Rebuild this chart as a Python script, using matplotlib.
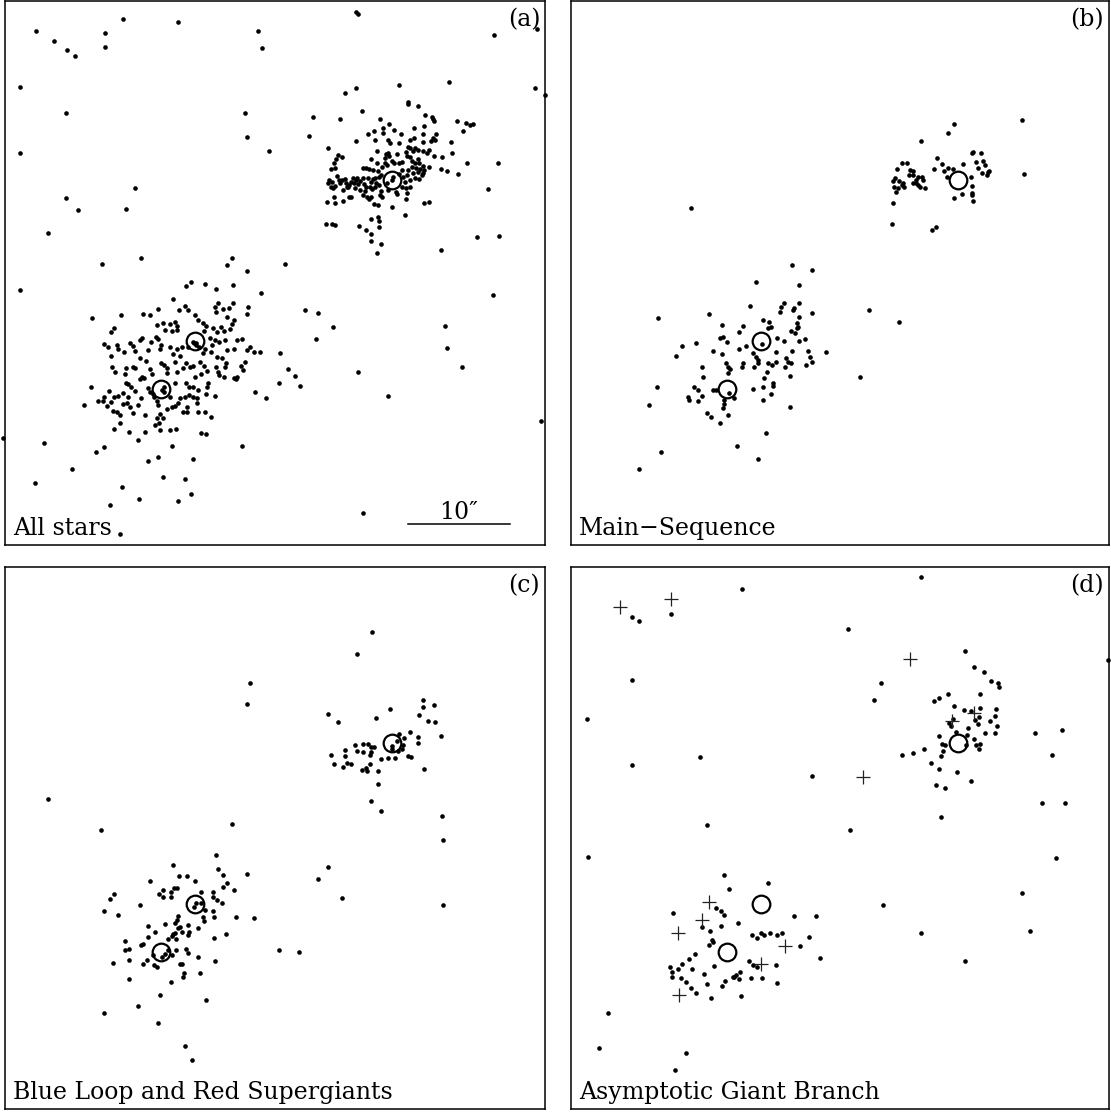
import matplotlib
matplotlib.use("Agg")
import matplotlib.pyplot as plt
import numpy as np

# Star positions (field units: 1 unit ~ 0.098 arcsec, origin top-left of field)
ALL_STARS = [
    (31,27),(49,37),(62,46),(70,52),(100,29),(100,43),(118,15),(173,18),(253,27),(257,44),
    (351,8),(353,10),(489,31),(532,25),(15,83),(15,149),(61,109),(61,194),(73,206),(43,229),
    (15,286),(39,439),(-2,434),(30,479),(67,465),(130,184),(121,205),(240,109),(242,133),(264,147),
    (530,84),(540,91),(536,417),(488,291),(300,306),(313,309),(328,323),(440,322),(442,344),(457,363),
    (353,368),(383,392),(358,509),(115,530),(311,335),
    (394,81),(444,78),(340,89),(351,84),(403,98),(403,100),(413,102),(357,107),(308,113),(335,115),
    (420,111),(427,113),(428,115),(429,117),(452,117),(461,119),(465,121),(468,120),(458,127),(375,115),
    (384,120),(378,124),(378,129),(369,127),(363,130),(389,126),(396,130),(409,124),(419,122),(418,130),
    (431,130),(304,132),(351,137),(370,136),(383,136),(385,139),(394,139),(405,136),(409,134),(418,138),
    (426,137),(428,134),(430,136),(446,138),(323,144),(403,143),(405,144),(410,144),(413,146),(408,147),
    (418,147),(422,149),(424,146),(447,149),(333,151),(337,153),(331,155),(372,147),(381,150),(383,149),
    (384,152),(380,154),(392,150),(401,148),(402,152),(429,152),(437,153),(366,155),(329,159),(330,164),
    (326,165),(372,159),(380,159),(382,161),(377,163),(387,157),(389,159),(394,159),(397,158),(405,153),
    (407,157),(413,155),(410,159),(414,159),(407,163),(411,164),(418,162),(419,166),(418,169),(424,163),
    (436,165),(442,167),(453,170),(462,159),(493,159),(358,164),(361,164),(364,165),(368,166),(373,167),
    (324,176),(323,179),(327,178),(330,182),(326,183),(328,184),(332,172),(334,176),(335,179),(337,176),
    (340,175),(341,179),(343,183),(344,181),(346,178),(348,174),(349,179),(351,176),(352,174),(353,180),
    (355,177),(358,174),(359,180),(361,183),(363,174),(366,178),(368,175),(370,174),(371,179),(374,173),
    (374,181),(376,171),(387,176),(388,173),
    (394,170),(398,173),(397,166),(402,171),(403,166),(400,178),(405,176),(408,169),(410,174),(413,168),
    (415,165),(417,171),(414,175),(401,184),(405,183),(402,189),(397,183),
    (382,179),(383,186),(391,188),(392,190),(376,187),(377,193),(370,183),(365,183),(367,185),(360,187),
    (358,191),(355,186),(362,193),(364,195),(366,193),(369,200),(373,201),(387,203),(401,195),(419,199),
    (424,198),(375,191),(344,193),(346,193),(338,197),(330,199),(322,198),(329,193),(338,186),(342,183),
    (350,184),
    (321,220),(327,220),(330,221),(354,222),(366,215),(373,213),(374,217),(374,223),(361,226),(366,230),
    (366,237),(376,240),(372,249),(400,211),(436,246),(472,233),(494,232),(483,185),
    (97,260),(136,254),(227,254),(222,261),(242,267),(280,260),(186,278),(181,282),(200,280),(228,281),
    (211,285),(256,289),(168,295),(87,314),(116,311),(138,310),(145,311),(153,305),(174,306),(180,302),
    (183,306),(190,311),(213,299),(210,303),(218,305),(224,304),(228,299),(211,308),(222,313),(243,303),
    (242,310),
    (106,328),(109,324),(152,321),(158,319),(160,326),(165,320),(167,327),(170,318),(172,322),(172,326),
    (193,316),(198,319),(201,322),(199,327),(208,324),(212,328),(216,323),(219,327),(227,320),(225,325),
    (229,316),(99,340),(103,343),(112,341),(113,345),(106,352),(125,339),(128,342),(137,334),(135,336),
    (146,338),(151,333),(153,335),(156,341),(155,345),(143,346),(130,347),(119,348),(165,343),(172,345),
    (177,343),(168,350),(175,352),(183,343),(188,338),(191,339),(194,343),(200,345),(207,341),(210,336),
    (205,334),(214,338),(220,336),(222,346),(229,345),(232,336),(237,335),(242,346),(245,343),(249,348),
    (255,348),(206,348),(198,349),(217,354),(212,353),(189,339),(191,341),
    (107,363),(110,368),(121,364),(120,370),(128,363),(130,364),(135,354),(141,357),(145,365),(147,370),
    (137,373),(135,375),(139,374),(156,359),(159,361),(162,364),(162,369),(170,358),(172,368),(178,364),
    (181,359),(185,363),(188,362),(195,358),(199,362),(202,367),(196,370),(190,373),(211,363),(213,368),
    (221,359),(220,363),(214,371),(219,373),(236,362),(240,358),(238,366),(232,373),
    (123,380),(126,383),(130,387),(121,379),(104,387),(109,393),(113,392),(99,393),(118,389),(143,384),
    (145,388),(148,390),(157,386),(159,383),(170,379),(181,379),(184,383),(188,383),(193,386),(203,379),
    (202,383),(201,390),(210,392),(229,374),(250,388),(261,394),(86,383),(275,349),(283,365),(290,372),
    (295,382),(274,379),(231,375),(159,388),
    (93,397),(98,397),(102,402),(106,398),(108,407),(112,408),(115,411),(118,400),(122,399),(123,393),
    (125,403),(128,409),(133,401),(136,394),(140,411),(149,393),(152,397),(153,401),(155,410),(158,414),
    (162,405),(167,403),(173,399),(165,393),(170,402),(175,394),(180,393),(184,391),(188,393),(192,399),
    (182,403),(182,408),(178,408),(193,408),(200,408),(206,413),(192,394),
    (109,425),(115,419),(124,428),(133,436),(152,414),(154,419),(150,421),(165,426),(171,425),(196,429),
    (201,430),(155,426),(140,428),(91,448),(99,443),(167,442),(237,442),(143,457),(153,453),(188,455),
    (158,473),(180,475),(117,483),(134,495),(105,501),(173,497),(186,490),(79,401),
]

MAIN_SEQUENCE = [
    (221,261),(241,266),(185,278),(228,281),(87,314),(138,310),(179,302),(213,299),(210,303),(209,308),
    (222,306),(223,304),(228,299),(228,313),(241,309),(226,319),(227,323),(226,324),(151,321),(149,334),
    (152,333),(156,338),(168,328),(172,322),(192,316),(198,318),(200,323),(197,324),(125,339),(111,342),
    (105,352),(142,347),(151,350),(168,345),(175,342),(191,340),(206,334),(213,337),(220,327),(224,329),
    (228,337),(234,335),(221,347),(205,348),(215,354),(217,358),(220,359),(214,363),(219,372),(237,347),
    (239,353),(241,358),(235,361),(255,348),(182,349),(185,353),(187,356),(187,359),(183,363),(172,359),
    (171,363),(155,359),(157,363),(159,365),(157,369),(197,359),(201,361),(205,358),(196,368),(193,374),
    (202,379),(202,382),(192,383),(200,390),(182,385),(192,396),(158,389),(142,386),(145,386),(131,363),
    (132,373),(123,383),(127,386),(131,392),(127,397),(117,393),(118,396),(153,396),(153,400),(152,404),
    (157,411),(163,394),(149,419),(136,409),(140,413),(86,383),(78,401),(219,403),(195,429),(166,442),
    (187,455),(90,448),(68,465),
    (383,120),(377,129),(350,137),(451,116),(453,170),(331,159),(336,159),(326,165),(339,166),(342,167),
    (338,171),(342,171),(347,173),(345,176),(351,173),(352,176),(322,177),(324,174),(328,177),(332,179),
    (331,181),(323,183),(327,184),(325,188),(342,179),(345,179),(347,181),(349,183),(354,184),(333,183),
    (322,199),(321,220),(361,226),(365,223),(366,154),(363,165),(371,160),(373,167),(377,164),(382,165),
    (376,173),(392,160),(400,173),(401,182),(401,189),(401,191),(402,197),(391,190),(383,194),(401,149),
    (402,148),(410,149),(405,158),(412,157),(414,161),(407,164),(411,169),(417,168),(416,171),(418,167),
    (120,204),(298,306),(328,318),(289,373),
]

BLUE_LOOP_RSG = [
    (211,288),(168,298),(213,302),(218,308),(222,316),(218,320),(242,307),(174,309),(182,309),(190,314),
    (145,314),(229,323),(109,327),(105,332),(99,344),(113,348),(135,338),(154,327),(158,323),(158,330),
    (166,325),(169,321),(172,321),(166,330),(196,325),(208,325),(208,330),(212,333),(217,336),(208,344),
    (209,350),(200,343),(198,350),(199,354),(196,336),(189,340),(191,336),(231,350),(249,351),(221,367),
    (173,349),(172,353),(170,356),(175,360),(173,361),(183,358),(184,365),(183,368),(193,361),(177,365),
    (170,366),(168,367),(167,369),(171,372),(163,372),(160,357),(150,365),(143,359),(143,370),(136,378),
    (138,377),(120,374),(120,383),(124,382),(124,393),(108,396),(138,397),(142,393),(149,398),(152,400),
    (148,388),(157,390),(160,387),(163,383),(167,388),(171,383),(181,382),(183,386),(193,390),(175,397),
    (177,397),(179,406),(178,410),(195,406),(210,394),(209,371),(166,415),(124,412),(155,428),(201,433),
    (133,439),(99,446),(153,456),(180,479),(187,493),(274,383),
    (43,232),(96,263),(227,257),(245,116),(242,137),(367,65),(352,87),(313,312),(323,300),(337,331),
    (438,273),(438,338),(294,385),
    (323,147),(333,155),(371,151),(385,142),(418,133),(418,140),(429,138),(414,148),(423,154),(430,155),
    (436,169),(405,165),(413,170),(413,176),(387,179),(387,182),(392,174),(394,167),(399,171),(397,182),
    (398,178),(393,184),(390,191),(383,191),(376,192),(403,189),(406,190),(419,202),(350,178),(358,177),
    (363,177),(366,180),(369,180),(352,184),(358,185),(366,185),(365,188),(340,183),(340,189),(326,188),
    (329,197),(338,200),(342,196),(346,197),(357,203),(361,201),(362,204),(365,197),(373,204),(373,217),
    (366,234),(376,244),(437,249),
]

AGB_DOTS = [
    (153,308),(158,322),(197,316),(145,341),(150,344),(153,348),(102,346),(131,360),(139,364),(150,359),
    (167,356),(141,373),(142,375),(138,378),(181,368),(186,371),(190,366),(193,368),(199,366),(206,368),
    (211,366),(223,349),(245,349),(238,370),(229,379),(249,391),(124,387),(118,392),(111,397),(107,402),
    (99,400),(101,405),(101,410),(110,411),(115,415),(121,402),(120,421),(125,426),(140,431),(136,417),
    (133,407),(143,399),(178,394),(182,398),(186,400),(169,405),(168,412),(165,408),(163,410),(162,410),
    (154,414),(151,419),(170,429),(180,411),(191,411),(205,398),(206,416),
    (394,84),(403,100),(413,105),(420,114),(427,116),(428,120),(409,127),(363,134),(368,131),(377,127),
    (383,139),(393,143),(400,144),(409,141),(408,150),(404,153),(407,157),(425,142),(424,149),(419,154),
    (426,159),(424,166),(382,152),(378,156),(380,159),(397,161),(414,166),(385,165),(396,168),(403,172),
    (405,178),(409,177),(408,182),(395,178),(368,169),(371,177),(374,178),(372,184),(370,189),(353,182),
    (342,186),(331,188),(360,196),(368,202),(386,205),(400,214),(365,218),(374,221),(310,116),
    (61,50),(68,54),(100,47),(171,22),(350,10),(61,113),(16,152),(129,190),(61,198),(136,258),
    (277,62),(303,133),(241,209),(279,263),(312,338),(350,366),(394,394),(451,326),(459,364),(471,236),
    (494,236),(485,291),(464,166),(491,163),(481,188),(537,93),(17,290),(37,446),(28,481),(115,486),
    (104,503),(370,250),
]

AGB_CROSSES = [
    (49,40),(100,32),(339,92),(292,210),(403,146),(381,154),(138,335),(131,353),(107,366),(214,379),
    (190,397),(108,428),
]

# Reference positions (open circles) shown in every panel
CENTRES = [(387,176),(190,337),(156,385)]

PANEL_TEXT = ["All stars", "Main\u2212Sequence", "Blue Loop and Red Supergiants",
              "Asymptotic Giant Branch"]
PANEL_TAGS = ["(a)", "(b)", "(c)", "(d)"]
SCALE_LABEL = "10\u2033"
SCALE_LENGTH = 102  # field units = 10 arcsec

W, H = 1111, 1112
fig = plt.figure(figsize=(W/100, H/100), dpi=100)

# (left px, top px, right px, bottom px, ylim-bottom, ylim-top)
frames = [
    (5, 1, 545, 545, 541, -3),
    (571, 1, 1109, 545, 541, -3),
    (5, 567, 545, 1109, 542, 0),
    (571, 567, 1109, 1109, 542, 0),
]
datasets = [ALL_STARS, MAIN_SEQUENCE, BLUE_LOOP_RSG, AGB_DOTS]
font = dict(family="DejaVu Serif", size=17)

for i, (l, t, r, b, yb, yt) in enumerate(frames):
    ax = fig.add_axes([l/W, 1-b/H, (r-l)/W, (b-t)/H])
    ax.set_xlim(0, r-l)
    ax.set_ylim(yb, yt)
    ax.set_xticks([]); ax.set_yticks([])
    for s in ax.spines.values():
        s.set_linewidth(1.1)
    pts = np.array(datasets[i], dtype=float)
    ax.scatter(pts[:, 0], pts[:, 1], s=11, c="black", linewidths=0, clip_on=False, zorder=2)
    if i == 3:
        cr = np.array(AGB_CROSSES, dtype=float)
        ax.plot(cr[:, 0], cr[:, 1], ls="none", marker="+", ms=10, mew=0.9, color="#222222", zorder=3)
    c = np.array(CENTRES, dtype=float)
    ax.plot(c[:, 0], c[:, 1], ls="none", marker="o", ms=12.7, mfc="none", mec="black", mew=1.6, zorder=4)
    ax.annotate(PANEL_TEXT[i], xy=(0, 0), xycoords="axes fraction", xytext=(6, 7),
                textcoords="offset points", ha="left", va="baseline", **font)
    ax.annotate(PANEL_TAGS[i], xy=(1, 1), xycoords="axes fraction", xytext=(-3.5, -5),
                textcoords="offset points", ha="right", va="top", **font)
    if i == 0:
        ax.plot([403, 403 + SCALE_LENGTH], [520, 520], color="black", lw=1.1)
        ax.text(403 + SCALE_LENGTH/2, 515, SCALE_LABEL, ha="center", va="baseline", **font)

fig.savefig("out.png", dpi=100)
